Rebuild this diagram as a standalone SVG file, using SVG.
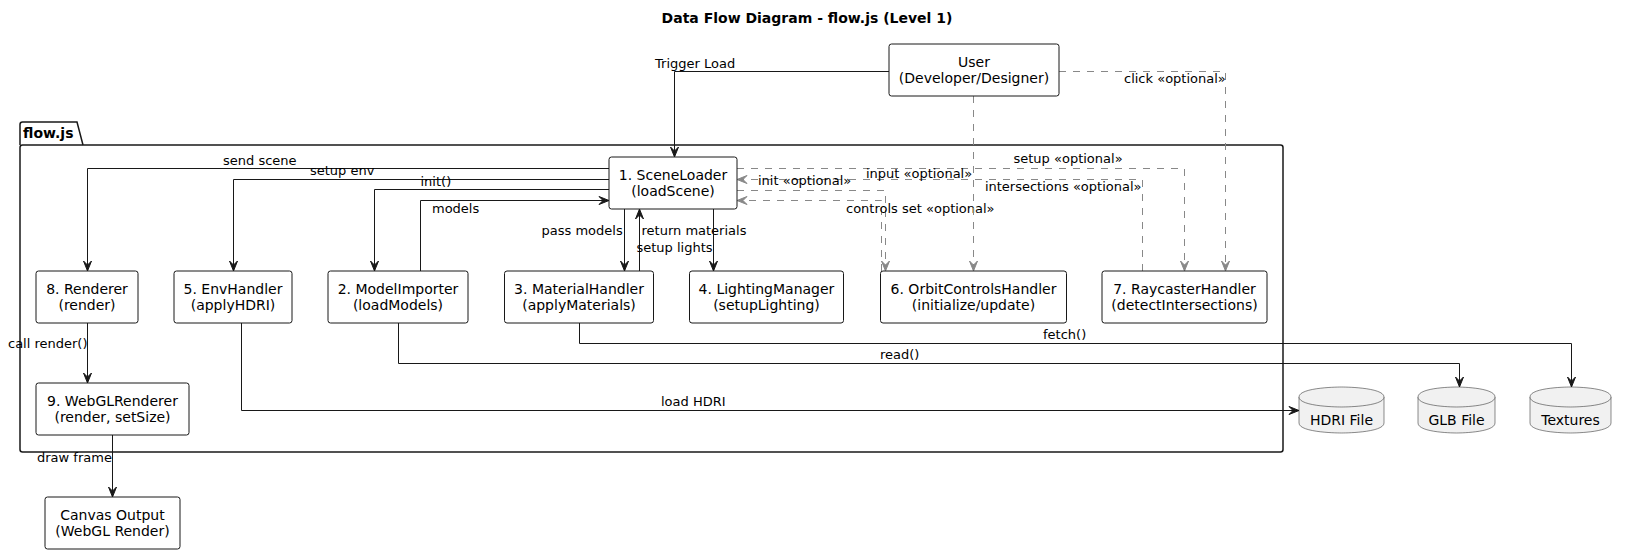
<svg xmlns="http://www.w3.org/2000/svg" width="1627" height="553" viewBox="0 0 1627 553">
<style>
text{font-family:"DejaVu Sans","Liberation Sans",sans-serif;fill:#000}
.title{font-size:14px;font-weight:bold;text-anchor:middle}
.pkg{font-size:14px;font-weight:bold}
.nt{font-size:14px;text-anchor:middle}
.lbl{font-size:13px}
.end{text-anchor:end}
.box{fill:#fff;stroke:#181818;stroke-width:1}
.db{fill:#f1f1f1;stroke:#181818;stroke-width:0.5}
.frame{fill:none;stroke:#181818;stroke-width:1.5}
.s{fill:none;stroke:#181818;stroke-width:1;marker-end:url(#ah)}
.d{fill:none;stroke:#888;stroke-width:1;stroke-dasharray:7,7;marker-end:url(#ahg)}
.dn{fill:none;stroke:#888;stroke-width:1;stroke-dasharray:7,7}
</style>
<defs>
<marker id="ah" viewBox="-11 -5 12 10" refX="0" refY="0" markerWidth="12" markerHeight="10" orient="auto" markerUnits="userSpaceOnUse">
<path d="M0,0 L-10,-4 L-6,0 L-10,4 Z" fill="#181818" stroke="#181818" stroke-width="1"/>
</marker>
<marker id="ahg" viewBox="-11 -5 12 10" refX="0" refY="0" markerWidth="12" markerHeight="10" orient="auto" markerUnits="userSpaceOnUse">
<path d="M0,0 L-10,-4 L-6,0 L-10,4 Z" fill="#888" stroke="#888" stroke-width="1"/>
</marker>
</defs>
<rect width="1627" height="553" fill="#fff"/>
<text class="title" x="807" y="23">Data Flow Diagram - flow.js (Level 1)</text>

<g id="pkg-flowjs">
<path class="frame" d="M20,145 L20,124.5 Q20,122 22.5,122 L77,122 L83,145"/>
<rect class="frame" x="20" y="145" width="1263" height="307" rx="2.5"/>
<text class="pkg" x="23" y="137.5">flow.js</text>
</g>

<g id="connectors">
<!-- Trigger Load -->
<path class="s" d="M889,71.5 H674.5 V157"/>
<text class="lbl" x="655" y="67.5">Trigger Load</text>
<!-- send scene -->
<path class="s" d="M609,168.5 H87.5 V271"/>
<text class="lbl" x="223" y="164.5">send scene</text>
<!-- setup env -->
<path class="s" d="M609,179.5 H233.5 V271"/>
<text class="lbl" x="310" y="175">setup env</text>
<!-- init() -->
<path class="s" d="M609,189.5 H374.5 V271"/>
<text class="lbl" x="420.5" y="185.5">init()</text>
<!-- models -->
<path class="s" d="M420.5,271 V200.5 H609"/>
<text class="lbl" x="432" y="213">models</text>
<!-- pass models -->
<path class="s" d="M624.5,209 V271"/>
<text class="lbl" x="541.5" y="235">pass models</text>
<!-- return materials -->
<path class="s" d="M639.5,271 V209"/>
<text class="lbl" x="641.5" y="235">return materials</text>
<!-- setup lights -->
<path class="s" d="M713.5,209 V271"/>
<text class="lbl" x="636.5" y="251.5">setup lights</text>
<!-- setup optional -->
<path class="d" d="M737,168.5 H1184.5 V271"/>
<text class="lbl" x="1013.5" y="163">setup «optional»</text>
<!-- intersections optional -->
<path class="d" d="M1142.5,271 V179.5 H737"/>
<text class="lbl end" x="1141.5" y="190.5">intersections «optional»</text>
<!-- init optional -->
<path class="d" d="M737,190.5 H885.5 V271"/>
<text class="lbl" x="758" y="184.5">init «optional»</text>
<!-- controls set optional -->
<path class="d" d="M881.5,271 V200.5 H737"/>
<text class="lbl" x="846" y="212.5">controls set «optional»</text>
<!-- input optional -->
<path class="d" d="M973.5,96 V271"/>
<text class="lbl" x="866" y="177.5">input «optional»</text>
<!-- click optional -->
<path class="d" d="M1059,71.5 H1225.5 V271"/>
<text class="lbl" x="1124" y="82.5">click «optional»</text>
<!-- fetch() -->
<path class="s" d="M579.5,323 V343.5 H1571.5 V387"/>
<text class="lbl" x="1043" y="339">fetch()</text>
<!-- read() -->
<path class="s" d="M398.5,323 V363.5 H1459.5 V387"/>
<text class="lbl" x="880" y="358.5">read()</text>
<!-- load HDRI -->
<path class="s" d="M241.5,323 V410.5 H1299"/>
<text class="lbl" x="661" y="405.5">load HDRI</text>
<!-- call render() -->
<path class="s" d="M87.5,323 V383"/>
<text class="lbl" x="8" y="348">call render()</text>
<!-- draw frame -->
<path class="s" d="M112.5,435 V497"/>
<text class="lbl" x="37" y="462">draw frame</text>
</g>

<g id="node-user">
<rect class="box" x="889" y="44" width="170" height="52" rx="2.5"/>
<text class="nt" x="974" y="66.5">User</text>
<text class="nt" x="974" y="83">(Developer/Designer)</text>
</g>
<g id="node-sceneloader">
<rect class="box" x="609" y="157" width="128" height="52" rx="2.5"/>
<text class="nt" x="673" y="179.5">1. SceneLoader</text>
<text class="nt" x="673" y="196">(loadScene)</text>
</g>
<g id="node-renderer">
<rect class="box" x="36" y="271" width="102" height="52" rx="2.5"/>
<text class="nt" x="87" y="293.5">8. Renderer</text>
<text class="nt" x="87" y="310">(render)</text>
</g>
<g id="node-envhandler">
<rect class="box" x="174" y="271" width="118" height="52" rx="2.5"/>
<text class="nt" x="233" y="293.5">5. EnvHandler</text>
<text class="nt" x="233" y="310">(applyHDRI)</text>
</g>
<g id="node-modelimporter">
<rect class="box" x="328" y="271" width="140" height="52" rx="2.5"/>
<text class="nt" x="398" y="293.5">2. ModelImporter</text>
<text class="nt" x="398" y="310">(loadModels)</text>
</g>
<g id="node-materialhandler">
<rect class="box" x="504.5" y="271" width="149" height="52" rx="2.5"/>
<text class="nt" x="579" y="293.5">3. MaterialHandler</text>
<text class="nt" x="579" y="310">(applyMaterials)</text>
</g>
<g id="node-lightingmanager">
<rect class="box" x="689.5" y="271" width="154" height="52" rx="2.5"/>
<text class="nt" x="766.5" y="293.5">4. LightingManager</text>
<text class="nt" x="766.5" y="310">(setupLighting)</text>
</g>
<g id="node-orbitcontrols">
<rect class="box" x="880.5" y="271" width="186" height="52" rx="2.5"/>
<text class="nt" x="973.5" y="293.5">6. OrbitControlsHandler</text>
<text class="nt" x="973.5" y="310">(initialize/update)</text>
</g>
<g id="node-raycaster">
<rect class="box" x="1102" y="271" width="165" height="52" rx="2.5"/>
<text class="nt" x="1184.5" y="293.5">7. RaycasterHandler</text>
<text class="nt" x="1184.5" y="310">(detectIntersections)</text>
</g>
<g id="node-webglrenderer">
<rect class="box" x="36" y="383" width="153" height="52" rx="2.5"/>
<text class="nt" x="112.5" y="405.5">9. WebGLRenderer</text>
<text class="nt" x="112.5" y="422">(render, setSize)</text>
</g>
<g id="node-canvas">
<rect class="box" x="45" y="497" width="135" height="52" rx="2.5"/>
<text class="nt" x="112.5" y="519.5">Canvas Output</text>
<text class="nt" x="112.5" y="536">(WebGL Render)</text>
</g>

<g id="db-hdri">
<path class="db" d="M1299,397 C1299,387 1341.5,387 1341.5,387 C1341.5,387 1384,387 1384,397 L1384,423 C1384,433 1341.5,433 1341.5,433 C1341.5,433 1299,433 1299,423 Z"/>
<path class="db" fill="none" d="M1299,397 C1299,407 1341.5,407 1341.5,407 C1341.5,407 1384,407 1384,397"/>
<text class="nt" x="1341.5" y="424.5">HDRI File</text>
</g>
<g id="db-glb">
<path class="db" d="M1418,397 C1418,387 1456.5,387 1456.5,387 C1456.5,387 1495,387 1495,397 L1495,423 C1495,433 1456.5,433 1456.5,433 C1456.5,433 1418,433 1418,423 Z"/>
<path class="db" d="M1418,397 C1418,407 1456.5,407 1456.5,407 C1456.5,407 1495,407 1495,397"/>
<text class="nt" x="1456.5" y="424.5">GLB File</text>
</g>
<g id="db-textures">
<path class="db" d="M1530,397 C1530,387 1570.5,387 1570.5,387 C1570.5,387 1611,387 1611,397 L1611,423 C1611,433 1570.5,433 1570.5,433 C1570.5,433 1530,433 1530,423 Z"/>
<path class="db" d="M1530,397 C1530,407 1570.5,407 1570.5,407 C1570.5,407 1611,407 1611,397"/>
<text class="nt" x="1570.5" y="424.5">Textures</text>
</g>
</svg>
